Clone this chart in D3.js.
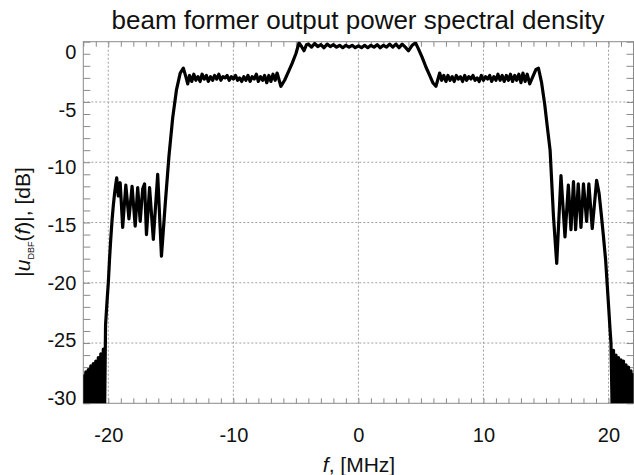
<!DOCTYPE html>
<html>
<head>
<meta charset="utf-8">
<script src="https://cdn.jsdelivr.net/npm/d3@7"></script>
<style>
  body { margin: 0; background: #fff; }
  text { font-family: "Liberation Sans", Arial, Helvetica, sans-serif; fill: #111; }
</style>
</head>
<body>
<svg id="psd" width="634" height="475"></svg>
<script>
// ----- data -----
const freqMHz = [
  // left noise floor
  -22.0, -21.9, -21.8, -21.7, -21.6, -21.5, -21.4, -21.3, -21.2, -21.1, -21.0, -20.9, -20.8, -20.7, -20.6, -20.5, -20.4, -20.3,
  // left outer edge + ripple
  -20.22, -20.1, -20.0, -19.9, -19.8, -19.7, -19.6, -19.5, -19.4, -19.33,
  -19.2, -19.05, -18.85, -18.6, -18.35, -18.1, -17.85, -17.65, -17.45, -17.25, -17.1, -16.95, -16.7, -16.4, -16.05, -15.75,
  -15.45, -15.15, -14.85, -14.55, -14.25, -14.0, -13.8, -13.65,
  // left shoulder
  -13.5, -13.33, -13.16, -13.0, -12.83, -12.66, -12.5, -12.33, -12.16, -12.0, -11.83, -11.66, -11.5, -11.33, -11.16, -11.0,
  -10.83, -10.66, -10.5, -10.33, -10.16, -10.0, -9.83, -9.66, -9.5, -9.33, -9.16, -9.0, -8.83, -8.66, -8.5, -8.33, -8.16, -8.0,
  -7.83, -7.66, -7.5, -7.33, -7.16, -7.0, -6.83, -6.66, -6.5, -6.2,
  // inner rising edge
  -5.9, -5.6, -5.3, -5.0, -4.75, -4.55, -4.35, -4.15,
  // passband
  -4.0, -3.75, -3.5, -3.25, -3.0, -2.75, -2.5, -2.25, -2.0, -1.75, -1.5, -1.25, -1.0, -0.75, -0.5, -0.25, 0,
  0.25, 0.5, 0.75, 1.0, 1.25, 1.5, 1.75, 2.0, 2.25, 2.5, 2.75, 3.0, 3.25, 3.5, 3.75, 4.0, 4.3, 4.57,
  // inner falling edge
  4.8, 5.1, 5.4, 5.7, 5.95, 6.2, 6.5,
  // right shoulder
  6.66, 6.83, 7.0, 7.16, 7.33, 7.5, 7.66, 7.83, 8.0, 8.16, 8.33, 8.5, 8.66, 8.83, 9.0, 9.16, 9.33, 9.5, 9.66, 9.83, 10.0,
  10.16, 10.33, 10.5, 10.66, 10.83, 11.0, 11.16, 11.33, 11.5, 11.66, 11.83, 12.0, 12.16, 12.33, 12.5, 12.66, 12.83, 13.0,
  13.16, 13.33, 13.5, 13.7, 13.95, 14.2, 14.4,
  // right outer edge + ripple
  14.65, 14.9, 15.1, 15.33, 15.6, 15.86, 16.2, 16.52, 16.79, 17.0, 17.2, 17.37, 17.58, 17.8, 18.0, 18.25, 18.43, 18.7, 19.05,
  19.25, 19.44, 19.6, 19.77, 19.9, 20.03, 20.12, 20.2,
  // right noise floor
  20.3, 20.4, 20.5, 20.6, 20.7, 20.8, 20.9, 21.0, 21.1, 21.2, 21.3, 21.4, 21.5, 21.6, 21.7, 21.8, 21.9, 22.0
];

const psdDb = [
  -27.6, -31, -27.4, -31, -27.2, -31, -26.9, -31, -26.7, -31, -26.5, -31, -26.2, -31, -25.9, -31, -25.5, -31,
  -23.5, -21.5, -20.0, -18.0, -16.3, -14.8, -13.6, -12.6, -11.8, -11.3,
  -12.8, -11.7, -15.4, -11.9, -14.7, -12.0, -15.3, -12.1, -14.9, -12.2, -11.8, -16.0, -12.1, -16.4, -11.0, -17.8,
  -13.5, -9.5, -6.3, -4.0, -2.6, -2.2, -2.9, -3.5,
  -2.8, -3.3, -2.7, -3.2, -2.9, -3.3, -2.7, -3.1, -2.8, -3.3, -2.9, -3.2, -2.8, -3.1, -2.7, -3.2,
  -2.9, -3.0, -2.8, -3.2, -2.9, -3.1, -2.8, -3.2, -3.0, -3.3, -2.9, -3.2, -2.8, -3.3, -2.9, -3.1, -2.7, -3.3,
  -2.9, -3.2, -2.8, -3.4, -2.8, -3.3, -2.7, -3.2, -2.6, -3.7,
  -3.2, -2.5, -1.8, -1.0, -0.1, -0.4, -0.75, -0.25,
  -0.2, -0.45, -0.15, -0.4, -0.25, -0.5, -0.2, -0.4, -0.25, -0.45, -0.3, -0.5, -0.3, -0.45, -0.3, -0.5, -0.35,
  -0.5, -0.3, -0.5, -0.3, -0.45, -0.25, -0.5, -0.3, -0.45, -0.2, -0.45, -0.2, -0.5, -0.2, -0.45, -0.75, -0.3, -0.1,
  -0.6, -1.3, -2.1, -2.8, -3.4, -3.7, -2.6,
  -3.2, -2.8, -3.3, -2.8, -3.2, -2.9, -3.3, -2.8, -3.1, -2.9, -3.3, -2.8, -3.2, -2.9, -3.1, -2.8, -3.2, -3.0, -3.3, -2.8, -3.2,
  -2.9, -3.1, -2.8, -3.3, -2.9, -3.2, -2.7, -3.2, -2.8, -3.3, -2.8, -3.2, -2.7, -3.3, -2.8, -3.2, -2.7, -3.4,
  -2.6, -3.3, -2.7, -3.5, -2.9, -2.3, -2.2,
  -3.4, -5.2, -7.0, -9.0, -14.5, -18.4, -11.1, -16.2, -11.9, -15.6, -11.6, -15.6, -11.8, -15.4, -11.8, -14.9, -11.8, -15.5, -11.5,
  -12.6, -14.5, -16.2, -18.1, -20.2, -22.3, -23.8, -25.0,
  -31, -25.6, -31, -26.0, -31, -26.2, -31, -26.4, -31, -26.5, -31, -26.8, -31, -27.0, -31, -27.3, -31, -27.5
];

const xTicks = [-20, -10, 0, 10, 20];
const yTicks = [0, -5, -10, -15, -20, -25, -30];
const xMinor = d3.range(-22, 23, 1);
const yMinor = d3.range(-30, 1, 1);

// ----- layout -----
const svg = d3.select("svg#psd");
const plotLeft = 83.3, plotTop = 41.7, plotW = 550.2, plotH = 361.6;
const frameColor = "#8a8a8a";

const x = d3.scaleLinear().domain([-22, 22]).range([plotLeft, plotLeft + plotW]);
const y = d3.scaleLinear().domain([-30, 0]).range([plotTop + plotH, plotTop]);
// IDL put the tick labels a little inside the frame ends
const yLabel = d3.scaleLinear().domain([-30, 0]).range([398, 52]);

svg.append("defs").append("clipPath").attr("id", "plotclip")
   .append("rect").attr("x", plotLeft).attr("y", plotTop).attr("width", plotW).attr("height", plotH);

// grid
let grid = svg.append("g").attr("class", "grid");
grid.selectAll("line.vx")
    .data(xTicks)
    .join("line")
    .attr("class", "vx")
    .attr("x1", d => x(d)).attr("x2", d => x(d))
    .attr("y1", plotTop).attr("y2", plotTop + plotH);
grid.selectAll("line.hy")
    .data(yTicks.filter(d => d != 0 && d != -30))
    .join("line")
    .attr("class", "hy")
    .attr("x1", plotLeft).attr("x2", plotLeft + plotW)
    .attr("y1", d => y(d)).attr("y2", d => y(d));
grid.selectAll("line")
    .attr("stroke", "#a0a0a0")
    .attr("stroke-width", 1)
    .attr("stroke-dasharray", "2,2");

// minor ticks, inward, on all four sides
const tickStyle = g => {
  g.select(".domain").remove();
  g.selectAll(".tick line").attr("stroke", frameColor);
};
svg.append("g").attr("transform", `translate(0,${plotTop + plotH})`)
   .call(d3.axisBottom(x).tickValues(xMinor).tickSize(-5).tickFormat(""))
   .call(tickStyle);
svg.append("g").attr("transform", `translate(0,${plotTop})`)
   .call(d3.axisTop(x).tickValues(xMinor).tickSize(-5).tickFormat(""))
   .call(tickStyle);
svg.append("g").attr("transform", `translate(${plotLeft},0)`)
   .call(d3.axisLeft(y).tickValues(yMinor).tickSize(-7).tickFormat(""))
   .call(tickStyle);
svg.append("g").attr("transform", `translate(${plotLeft + plotW},0)`)
   .call(d3.axisRight(y).tickValues(yMinor).tickSize(-7).tickFormat(""))
   .call(tickStyle);

// frame
svg.append("rect")
   .attr("x", plotLeft).attr("y", plotTop).attr("width", plotW).attr("height", plotH)
   .attr("fill", "none").attr("stroke", frameColor).attr("stroke-width", 1);

// tick labels
let xAxis = svg.append("g")
               .attr("class", "x axis")
               .attr("transform", `translate(0,${plotTop + plotH})`)
               .call(d3.axisBottom(x).tickValues(xTicks).tickSize(0).tickPadding(24.5).tickFormat(d => String(d)));
xAxis.select(".domain").remove();
xAxis.selectAll("text").attr("font-size", 20).attr("fill", "#111");

let yAxis = svg.append("g")
               .attr("class", "y axis")
               .attr("transform", `translate(${plotLeft},0)`)
               .call(d3.axisLeft(y).tickValues(yTicks).tickSize(0).tickPadding(7).tickFormat(d => String(d)));
yAxis.select(".domain").remove();
yAxis.selectAll(".tick text")
     .attr("font-size", 20).attr("fill", "#111")
     .attr("y", d => yLabel(d) - y(d));

// spectrum
const points = freqMHz.map((f, i) => [f, psdDb[i]]);
const line = d3.line().x(d => x(d[0])).y(d => y(d[1]));
svg.append("path")
   .datum(points)
   .attr("clip-path", "url(#plotclip)")
   .attr("d", line)
   .attr("fill", "none")
   .attr("stroke", "#000")
   .attr("stroke-width", 3.2)
   .attr("stroke-linejoin", "round");

// titles
svg.append("text")
   .attr("x", 358).attr("y", 29)
   .attr("text-anchor", "middle")
   .attr("font-size", 26)
   .text("beam former output power spectral density");

let xTitle = svg.append("text")
   .attr("x", 359).attr("y", 472)
   .attr("text-anchor", "middle")
   .attr("font-size", 21);
xTitle.append("tspan").attr("font-style", "italic").text("f");
xTitle.append("tspan").text(", [MHz]");

let yTitle = svg.append("text")
   .attr("transform", "translate(30,222) rotate(-90)")
   .attr("text-anchor", "middle")
   .attr("font-size", 21);
yTitle.append("tspan").text("|");
yTitle.append("tspan").attr("font-style", "italic").text("u");
yTitle.append("tspan").attr("font-size", 9).attr("dy", 4).text("DBF");
yTitle.append("tspan").attr("dy", -4).text("(");
yTitle.append("tspan").attr("font-style", "italic").text("f");
yTitle.append("tspan").text(")|, [dB]");
</script>
</body>
</html>
